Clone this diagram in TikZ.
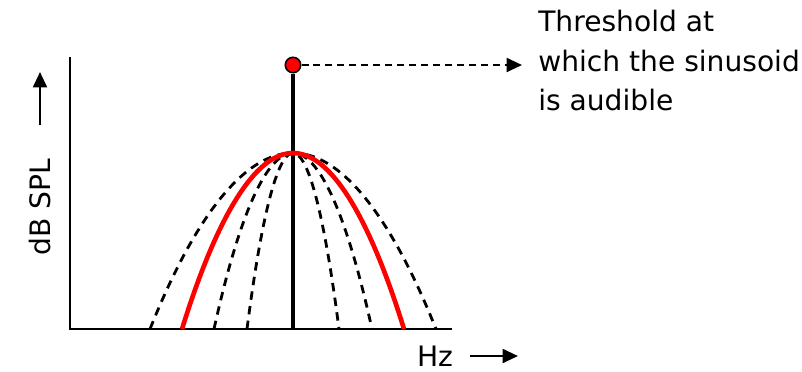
\documentclass[tikz,border=0pt]{standalone}
\usepackage{fontspec}
\setmainfont{DejaVu Sans}
\usetikzlibrary{arrows.meta,positioning}
\tikzstyle{axis}=[line width=2pt]
\tikzstyle{mask}=[dash pattern=on 6pt off 4.5pt,line width=2pt]
\tikzstyle{thresh}=[circle,draw,fill=red,line width=1.1pt,inner sep=0pt,minimum size=11pt]
\tikzstyle{lbl}=[font=\fontsize{20}{28}\selectfont,align=left,inner sep=0pt]
\tikzstyle{arr}=[-{Triangle[length=11pt,width=10pt]},line width=1.5pt]

\begin{document}
\begin{tikzpicture}[x=0.025cm,y=-0.025cm]
\useasboundingbox (0,0) rectangle (802,371);
% axes
\coordinate (O) at (70,329);
\coordinate (top) at (70,57);
\coordinate (right) at (452,329);
\draw[axis] (top) -- (O) -- (right);
% tone
\coordinate (base) at (293,329);
\coordinate (peak) at (293,153);
\node[thresh] (dot) at (293,65) {};
\draw[line width=3pt] (base) -- (dot);
% masking curves
\foreach \w in {46,79,143}
  \draw[mask] (293-\w,329) parabola bend (peak) (293+\w,329);
\draw[red,line width=3.3pt] (182,329) parabola bend (peak) (404,329);
% labels
\node[lbl,anchor=north west] (txt) at (538,10) {Threshold at\\which the sinusoid\\is audible};
\coordinate (tip) at (522,65);
\draw[arr,dash pattern=on 5pt off 3.5pt] (dot) -- (tip);
\node[lbl,rotate=90] (ylab) at (40,207) {dB SPL};
\coordinate (ya) at (40,125);
\coordinate (yb) at (40,72);
\draw[arr] (ya) -- (yb);
\node[lbl] (xlab) at (435,356) {Hz};
\coordinate (xa) at (470,356);
\coordinate (xb) at (518,356);
\draw[arr] (xa) -- (xb);
\end{tikzpicture}
\end{document}
